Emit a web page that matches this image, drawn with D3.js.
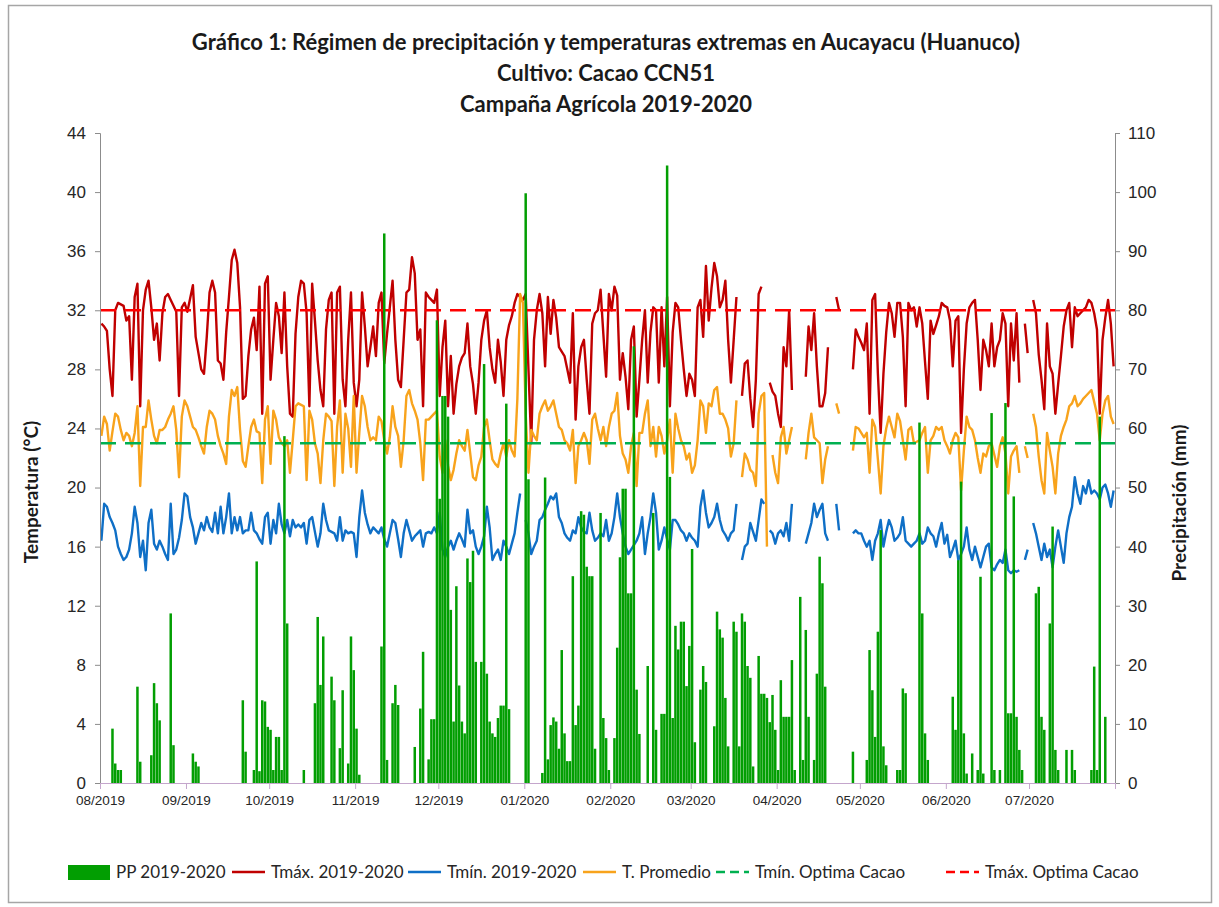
<!DOCTYPE html>
<html lang="es">
<head>
<meta charset="utf-8">
<title>Régimen de precipitación y temperaturas extremas en Aucayacu</title>
<script src="https://d3js.org/d3.v7.min.js"></script>
<style>
  body { margin: 0; background: #fff; }
  svg { display: block; font-family: Lato, "Liberation Sans", sans-serif; }
  .os path, .os line { stroke: #8c8c8c; }
  .os text { fill: #262626; }
  .x-os path, .x-os line { stroke: #c4a6cc; }
</style>
</head>
<body>
<div id="okvir"></div>
<script>

// 1. Datos diarios, 01/08/2019 - 31/07/2020 (null = sin dato)

const inicio = new Date(Date.UTC(2019, 7, 1))
const fin = new Date(Date.UTC(2020, 7, 1))

const titulo = [
  "Gráfico 1: Régimen de precipitación y temperaturas extremas en Aucayacu (Huanuco)",
  "Cultivo: Cacao CCN51",
  "Campaña Agrícola 2019-2020"
]
const meses = ["08/2019", "09/2019", "10/2019", "11/2019", "12/2019", "01/2020",
  "02/2020", "03/2020", "04/2020", "05/2020", "06/2020", "07/2020"]
const ticksTemp = [0, 4, 8, 12, 16, 20, 24, 28, 32, 36, 40, 44]
const ticksPP = [0, 10, 20, 30, 40, 50, 60, 70, 80, 90, 100, 110]
const nombres = ["PP 2019-2020", "Tmáx. 2019-2020", "Tmín. 2019-2020", "T. Promedio",
  "Tmín. Optima Cacao", "Tmáx. Optima Cacao"]

const tminOptima = 23
const tmaxOptima = 32

// precipitacion (mm)
const pp = [
  0,0,0,0,9.2,3.3,2.2,2.2,0,0,0,0,0,16.3,3.6,0,0,0,4.7,16.9,13.5,10.6,0,0,0,28.7,6.4,0,0,0,0,
  0,0,5.0,3.6,2.8,0,0,0,0,0,0,0,0,0,0,0,0,0,0,0,14.0,5.3,0,0,2.2,37.5,2.0,14.0,13.8,9.5,
  9.0,2.2,7.8,7.8,2.2,58.7,27.0,0,0,0,0,0,2.2,0,0,0,13.5,28.1,16.6,24.8,0,0,18.0,14.0,0,5.9,15.7,0,3.3,24.8,19.1,
  9.2,1.4,0,0,0,0,0,0,0,23.1,93.0,3.9,0,13.5,16.6,13.2,0,0,0,0,0,6.1,0,12.6,22.2,0,4.0,10.8,10.8,78.3,
  48.1,65.5,65.5,62.0,29.3,10.4,33.3,16.5,10.4,8.4,38.0,34.0,39.3,20.5,0,20.5,70.9,18.5,10.4,8.4,7.8,11.0,13.1,13.1,64.2,12.5,0,0,0,0,0,
  99.8,51.4,0,0,0,0,1.7,51.7,4.0,9.8,11.1,10.4,5.8,22.5,8.4,3.7,3.7,35.0,9.8,13.1,46.0,45.4,36.6,35.0,35.0,5.8,0,45.7,11.0,7.6,2.2,
  0,7.6,22.9,38.2,49.8,49.8,32.1,32.1,73.9,15.8,8.3,0,0,19.8,0,45.7,9.0,0,11.7,11.7,104.5,51.8,11.0,26.6,22.6,27.3,27.3,16.4,23.2,
  39.6,6.9,0,15.8,19.8,17.1,0,0,9.6,29.0,26.0,24.6,14.4,6.2,0,27.3,25.6,6.2,28.7,27.3,19.8,17.8,2.8,0,21.5,15.1,15.1,14.4,10.3,14.9,9.0,
  2.2,17.4,11.2,11.2,11.2,20.8,2.2,0,31.5,3.9,25.9,11.2,0,3.9,18.5,38.3,33.8,16.3,0,0,0,0,0,0,0,0,0,5.3,0,0,
  0,0,3.9,22.5,15.7,7.8,25.6,42.8,6.2,3.0,0,0,0,2.2,2.2,16.0,15.2,0,0,0,0,61.0,28.7,8.4,3.9,0,0,0,0,0,0,
  0,0,14.6,9.0,37.7,51.0,8.4,1.6,0,5.0,0,2.2,34.9,1.6,0,0,62.6,2.2,0,2.2,0,64.3,11.8,11.8,48.5,11.2,5.6,2.2,0,0,
  0,0,32.1,33.2,11.2,9.0,0,27.0,43.4,5.6,2.2,0,0,5.6,0,5.6,2.2,0,0,0,0,0,2.2,19.7,2.2,62.0,0,11.2,0,0,0
]

// temperatura maxima (°C)
const tmax = [
  31.1,30.9,30.6,28.0,26.2,32.0,32.5,32.4,32.3,31.3,31.6,27.3,32.9,33.8,25.5,32.0,33.4,34.0,32.2,30.0,31.1,28.6,31.8,32.9,33.1,32.7,32.3,31.9,26.2,32.2,32.5,
  31.9,32.8,33.7,30.2,29.1,28.0,27.7,30.2,33.2,34.0,33.2,28.6,28.4,27.3,30.5,32.9,35.4,36.1,35.2,32.2,26.0,26.2,28.9,30.7,31.5,29.3,33.6,25.0,33.8,34.3,
  27.3,30.0,32.5,31.6,29.1,33.2,28.2,25.0,24.8,30.4,32.9,34.0,33.8,31.8,25.5,33.8,31.3,28.6,26.6,25.5,30.7,32.7,33.2,25.0,33.2,33.6,27.3,25.5,30.0,33.2,27.1,
  25.5,27.3,33.2,30.9,28.2,29.5,30.9,28.9,32.5,33.2,28.4,30.4,32.2,34.0,30.0,27.3,26.8,30.0,33.2,33.4,35.6,34.5,30.0,30.7,25.5,33.2,32.9,32.7,32.5,33.4,
  26.2,29.5,31.3,25.5,28.9,25.0,27.0,28.2,28.8,29.1,31.1,28.2,27.0,25.0,27.1,30.0,31.3,32.0,29.5,28.0,27.1,30.0,28.5,26.2,30.0,31.0,31.6,32.5,33.1,32.9,32.7,
  33.1,28.0,23.0,30.0,32.0,33.1,31.8,28.2,32.9,30.4,32.7,31.5,29.5,29.2,28.9,28.0,27.1,31.8,24.6,28.2,29.5,30.0,27.3,25.0,31.1,31.8,32.0,33.4,30.4,27.5,33.1,
  32.0,33.6,33.0,27.3,29.1,27.5,25.3,30.0,30.9,24.8,27.3,30.0,32.0,27.1,30.5,32.2,32.0,27.1,32.2,28.2,32.9,25.5,30.5,32.5,32.2,30.0,28.0,26.2,27.7,
  27.3,26.2,32.2,32.7,30.2,35.0,31.3,33.5,35.2,34.3,32.2,32.7,34.0,30.0,27.1,30.0,32.9,null,26.2,28.4,28.6,26.0,24.1,27.3,33.1,33.6,null,null,27.1,26.5,26.2,
  25.0,24.1,29.5,28.2,32.0,26.6,null,null,null,null,27.5,30.9,29.3,31.8,28.2,25.5,25.5,26.4,29.5,null,null,32.9,32.0,null,null,null,null,28.0,30.7,30.2,
  29.8,29.3,31.1,25.0,32.7,33.1,27.7,23.7,27.7,30.5,32.5,31.8,30.2,32.5,32.5,30.2,25.5,32.5,32.0,32.2,30.9,32.2,31.1,28.5,26.0,31.3,30.4,31.0,31.6,32.5,32.3,
  32.2,31.3,28.2,31.3,31.6,23.7,28.0,31.1,32.2,32.5,32.7,30.0,26.6,30.0,29.3,28.2,31.1,28.2,29.5,30.0,31.8,31.1,25.5,31.1,28.6,31.8,27.1,null,31.1,29.1,
  null,32.7,31.8,29.0,27.3,25.3,31.1,28.2,27.7,25.0,27.0,28.9,30.9,32.0,32.5,29.5,32.2,31.6,31.8,32.0,32.2,32.7,32.5,31.8,30.7,25.0,30.0,31.5,32.7,31.1,28.2
]

// temperatura minima (°C)
const tmin = [
  16.4,18.9,18.7,18.0,17.6,17.1,16.0,15.5,15.1,15.3,15.8,16.9,18.7,17.6,15.3,16.4,14.4,17.6,18.5,16.2,15.8,16.4,16.0,15.5,15.1,18.9,15.5,15.8,16.6,17.8,19.6,
  19.4,18.0,17.3,16.2,16.9,17.6,17.1,18.0,17.3,17.0,18.3,16.9,18.7,16.9,18.0,19.6,16.9,18.0,17.1,18.0,16.9,17.1,17.1,18.3,17.1,16.9,16.5,16.2,18.0,18.3,
  16.2,17.8,16.9,18.9,17.5,16.9,17.8,16.7,17.8,17.3,17.5,17.3,17.6,16.2,17.8,18.0,17.0,16.0,16.9,18.9,17.8,17.1,17.0,16.9,16.4,18.0,16.4,17.1,16.9,17.0,16.9,
  15.3,18.0,19.8,18.3,17.5,16.9,17.3,17.1,16.9,17.3,16.5,16.0,16.9,17.8,17.6,16.5,15.3,16.9,17.8,17.1,16.4,16.7,16.9,17.1,16.0,16.9,17.0,16.9,17.3,16.9,
  18.3,15.8,15.3,16.0,16.4,15.8,16.4,16.9,16.5,16.0,18.5,16.9,17.1,16.0,15.5,16.0,16.7,18.7,17.3,15.1,15.5,15.8,15.1,16.4,16.0,15.5,16.2,16.9,18.3,19.6,null,
  17.8,16.9,15.5,16.0,16.4,17.8,18.0,18.5,18.9,19.4,19.2,19.6,18.0,17.6,16.9,16.6,16.4,17.1,16.9,18.0,17.3,17.0,16.9,18.3,17.1,16.4,16.6,16.9,16.7,17.8,16.4,
  16.9,18.0,19.6,18.0,16.9,16.0,15.5,15.8,16.1,16.4,16.9,18.0,15.5,16.9,18.0,19.6,18.3,15.8,16.4,17.3,16.5,15.8,17.8,17.8,17.5,17.1,16.9,16.4,16.9,
  16.6,16.4,16.0,18.7,19.8,18.3,17.3,17.6,18.0,18.9,17.8,17.1,16.8,16.4,16.9,17.1,18.9,null,15.1,16.0,16.2,17.6,17.0,16.4,17.8,19.2,18.9,null,17.1,16.9,16.2,
  16.9,17.1,16.7,17.6,16.4,18.9,null,null,null,null,16.2,16.9,17.6,18.9,18.0,18.5,18.9,16.9,16.4,null,null,18.9,17.1,null,null,null,null,16.9,17.1,16.9,
  16.9,16.4,16.0,16.4,15.1,16.4,16.9,17.8,16.0,17.0,17.8,17.3,16.4,16.6,16.9,18.0,16.4,16.2,16.0,16.2,16.4,16.9,16.2,16.4,17.3,16.9,16.7,16.0,16.9,17.6,16.2,
  16.8,15.3,15.8,16.4,15.1,15.5,16.0,17.3,15.8,15.1,16.0,15.3,14.6,15.3,16.0,16.2,14.6,14.4,14.8,15.1,14.9,15.8,14.4,14.2,14.4,14.3,14.4,null,15.1,15.8,
  null,17.6,16.9,16.0,15.1,16.2,15.3,15.8,14.6,16.0,17.1,16.0,14.9,16.9,18.0,18.7,20.7,19.6,18.9,20.1,19.6,20.5,19.6,19.8,19.6,19.2,20.0,20.2,19.6,18.7,19.8
]

// temperatura promedio (°C)
const tprom = [
  23.5,24.8,24.3,22.5,23.8,25.0,24.8,23.9,23.2,23.7,23.5,22.8,23.7,25.5,20.1,24.1,24.1,25.9,24.6,23.5,23.0,23.9,23.9,24.1,24.6,25.0,25.5,23.9,20.7,24.8,25.9,
  25.5,24.8,24.1,23.9,23.4,22.8,22.3,24.1,25.2,25.0,24.6,23.5,22.8,22.3,21.6,24.8,26.6,26.2,26.8,23.9,21.8,21.4,22.8,24.1,24.6,23.8,23.7,20.3,24.6,25.5,
  21.6,25.2,24.6,23.4,23.0,22.8,23.2,21.0,23.2,25.5,25.7,25.6,25.5,20.5,25.2,24.6,23.0,22.3,20.3,23.2,25.0,24.8,24.5,20.1,24.1,25.9,21.0,25.0,24.0,21.4,26.2,
  21.0,23.7,26.2,25.5,24.1,23.2,23.4,23.2,24.8,24.5,23.2,22.3,23.4,25.5,24.1,23.5,21.4,23.2,26.2,26.6,25.7,25.2,24.6,23.0,20.5,24.6,24.6,24.8,25.0,25.2,
  22.1,21.0,23.2,21.5,20.5,21.2,22.3,23.2,22.8,22.5,23.9,22.3,20.7,20.5,21.5,22.1,24.1,24.6,23.2,21.9,21.6,21.4,22.3,23.0,22.1,23.2,22.5,22.1,26.0,33.1,32.5,
  25.0,21.0,23.9,23.5,23.2,25.0,25.5,25.9,25.2,25.5,25.9,25.0,24.1,23.9,23.2,23.0,22.5,23.9,20.3,22.8,23.2,23.7,23.2,21.6,24.6,25.0,24.0,23.2,24.1,22.8,24.1,
  25.0,25.2,26.4,23.5,22.3,21.9,21.0,22.8,23.7,20.1,23.7,23.7,25.0,25.9,22.8,24.1,22.1,24.1,23.5,22.3,23.2,24.6,21.0,25.0,24.0,23.2,22.8,21.9,22.3,
  21.0,21.5,23.2,25.9,25.5,23.7,25.7,25.5,26.6,26.8,25.0,25.0,24.6,24.0,22.1,23.0,25.9,null,20.7,22.3,21.9,21.2,21.0,20.1,25.0,26.2,26.4,16.0,null,22.2,21.0,
  20.3,23.4,24.1,22.3,23.2,24.1,null,null,null,null,21.9,23.7,25.0,23.4,23.2,23.0,20.3,21.9,22.8,null,null,25.7,25.0,null,null,null,null,22.5,24.1,24.0,
  23.7,23.4,23.7,21.0,24.6,24.1,21.9,19.6,22.8,24.0,24.8,24.1,23.4,25.0,24.5,23.2,21.9,23.9,24.1,23.0,23.1,23.2,23.7,24.1,21.0,23.2,23.5,24.1,23.9,24.1,23.2,
  22.8,22.3,23.2,23.7,23.4,19.8,22.5,24.8,24.1,23.9,23.2,22.0,21.0,22.3,22.1,22.8,23.0,22.2,21.4,22.8,23.4,22.3,19.6,22.1,22.5,22.8,21.0,null,22.8,22.0,
  null,25.0,24.1,22.1,20.5,19.6,23.7,22.5,21.4,19.6,22.3,23.5,24.1,24.6,25.5,25.7,26.2,25.5,25.7,26.0,26.2,26.4,26.6,25.8,25.0,23.2,25.0,25.9,26.2,24.8,24.3
]

function crtajGrafico() {

  // 2. Dimensiones

  const dimenzije = {
    sirina: 1219,
    visina: 907,
    margine: { top: 133, right: 104, bottom: 124, left: 100 },
  }
  dimenzije.grSirina = dimenzije.sirina - dimenzije.margine.left - dimenzije.margine.right
  dimenzije.grVisina = dimenzije.visina - dimenzije.margine.top - dimenzije.margine.bottom

  const boje = {
    pp: "#029e02",
    tmax: "#c00000",
    tmin: "#0f6fc6",
    tprom: "#f8a31c",
    tminOpt: "#00b050",
    tmaxOpt: "#ff0000",
  }

  // 3. Lienzo

  const okvir = d3.select("#okvir")
    .append("svg")
      .attr("width", dimenzije.sirina)
      .attr("height", dimenzije.visina)

  okvir.append("rect")
      .attr("x", 8.5).attr("y", 5.5)
      .attr("width", 1203).attr("height", 897)
      .attr("fill", "#fff")
      .attr("stroke", "#a6a6a6")
      .attr("stroke-width", 1.5)

  okvir.append("g")
    .selectAll("text")
    .data(titulo)
    .join("text")
      .attr("x", 606)
      .attr("y", (d, i) => 50 + i * 31)
      .attr("text-anchor", "middle")
      .style("font-weight", "bold")
      .style("font-size", "22px")
      .attr("fill", "#1a1a1a")
      .text(d => d)

  const granice = okvir.append("g")
      .attr("transform", `translate(${dimenzije.margine.left},${dimenzije.margine.top})`)

  // 4. Escalas

  const dias = d3.utcDay.range(inicio, fin)
  const xSkala = d3.scaleUtc()
    .domain([inicio, fin])
    .range([0, dimenzije.grSirina])
  const yTemp = d3.scaleLinear()
    .domain([0, 44])
    .range([dimenzije.grVisina, 0])
  const yPP = d3.scaleLinear()
    .domain([0, 110])
    .range([dimenzije.grVisina, 0])

  const centro = f => xSkala(d3.utcHour.offset(f, 12))
  const serie = vals => dias.map((f, i) => ({ fecha: f, v: vals[i] }))

  // 5. Series de temperatura

  const generatorLinije = d3.line()
    .defined(d => d.v != null)
    .x(d => centro(d.fecha))
    .y(d => yTemp(d.v))

  const lineas = [
    { vals: tmax, color: boje.tmax },
    { vals: tmin, color: boje.tmin },
    { vals: tprom, color: boje.tprom },
  ]
  lineas.forEach(l => {
    granice.append("path")
        .attr("d", generatorLinije(serie(l.vals)))
        .attr("fill", "none")
        .attr("stroke", l.color)
        .attr("stroke-width", 2.4)
        .attr("stroke-linejoin", "round")
  })

  const optimas = [
    { v: tminOptima, color: boje.tminOpt },
    { v: tmaxOptima, color: boje.tmaxOpt },
  ]
  optimas.forEach(o => {
    granice.append("line")
        .attr("x1", 0)
        .attr("x2", dimenzije.grSirina)
        .attr("y1", yTemp(o.v))
        .attr("y2", yTemp(o.v))
        .attr("stroke", o.color)
        .attr("stroke-width", 2.6)
        .attr("stroke-dasharray", "16,9")
  })

  // 6. Precipitacion (eje secundario, dibujada encima)

  const anchoBarra = (xSkala(dias[1]) - xSkala(dias[0])) * 0.9
  granice.append("g")
    .selectAll("rect")
    .data(serie(pp).filter(d => d.v > 0))
    .join("rect")
      .attr("x", d => centro(d.fecha) - anchoBarra / 2)
      .attr("width", anchoBarra)
      .attr("y", d => yPP(d.v))
      .attr("height", d => yPP(0) - yPP(d.v))
      .attr("fill", boje.pp)

  // 7. Ejes

  const yOsGenerator = d3.axisLeft(yTemp)
    .tickValues(ticksTemp)
    .tickSize(5)
    .tickPadding(9)
  const yOs = granice.append("g")
      .attr("class", "os")
      .call(yOsGenerator)
  yOs.selectAll("text").style("font-size", "17px")

  const yOs2Generator = d3.axisRight(yPP)
    .tickValues(ticksPP)
    .tickSize(5)
    .tickPadding(8)
  const yOs2 = granice.append("g")
      .attr("class", "os")
      .attr("transform", `translate(${dimenzije.grSirina},0)`)
      .call(yOs2Generator)
  yOs2.selectAll("text").style("font-size", "17px")

  const fechasMes = d3.utcMonth.range(inicio, d3.utcDay.offset(fin, 1))
  const xOsGenerator = d3.axisBottom(xSkala)
    .tickValues(fechasMes)
    .tickSize(6)
    .tickPadding(6)
    .tickFormat((d, i) => meses[i] || "")
  const xOs = granice.append("g")
      .attr("class", "os x-os")
      .attr("transform", `translate(0,${dimenzije.grVisina})`)
      .call(xOsGenerator)
  xOs.selectAll("text").style("font-size", "13.5px")

  granice.append("text")
      .attr("transform", `translate(${-62},${dimenzije.grVisina / 2 + 34}) rotate(-90)`)
      .attr("text-anchor", "middle")
      .style("font-weight", "bold")
      .style("font-size", "19px")
      .attr("fill", "#1a1a1a")
      .text("Temperatura (°C)")

  granice.append("text")
      .attr("transform", `translate(${dimenzije.grSirina + 71},${dimenzije.grVisina / 2 + 45}) rotate(-90)`)
      .attr("text-anchor", "middle")
      .style("font-weight", "bold")
      .style("font-size", "19px")
      .attr("fill", "#1a1a1a")
      .text("Precipitación (mm)")

  // 8. Leyenda

  const leyenda = okvir.append("g")
      .attr("transform", "translate(0,872)")
      .style("font-size", "17px")
  const posLeyenda = [68, 232, 408, 583, 716, 946]
  const estilos = [
    { color: boje.pp, tipo: "barra" },
    { color: boje.tmax },
    { color: boje.tmin },
    { color: boje.tprom },
    { color: boje.tminOpt, guion: "9,5" },
    { color: boje.tmaxOpt, guion: "9,5" },
  ]
  nombres.forEach((n, i) => {
    const x = posLeyenda[i]
    const e = estilos[i]
    if (e.tipo === "barra") {
      leyenda.append("rect")
          .attr("x", x).attr("y", -7)
          .attr("width", 42).attr("height", 15)
          .attr("fill", e.color)
    } else {
      leyenda.append("line")
          .attr("x1", x).attr("x2", x + 33)
          .attr("y1", 0).attr("y2", 0)
          .attr("stroke", e.color)
          .attr("stroke-width", 2.6)
          .attr("stroke-dasharray", e.guion || null)
    }
    leyenda.append("text")
        .attr("x", e.tipo === "barra" ? x + 48 : x + 39)
        .attr("y", 6)
        .attr("fill", "#262626")
        .text(n)
  })
}
crtajGrafico()
</script>
</body>
</html>
